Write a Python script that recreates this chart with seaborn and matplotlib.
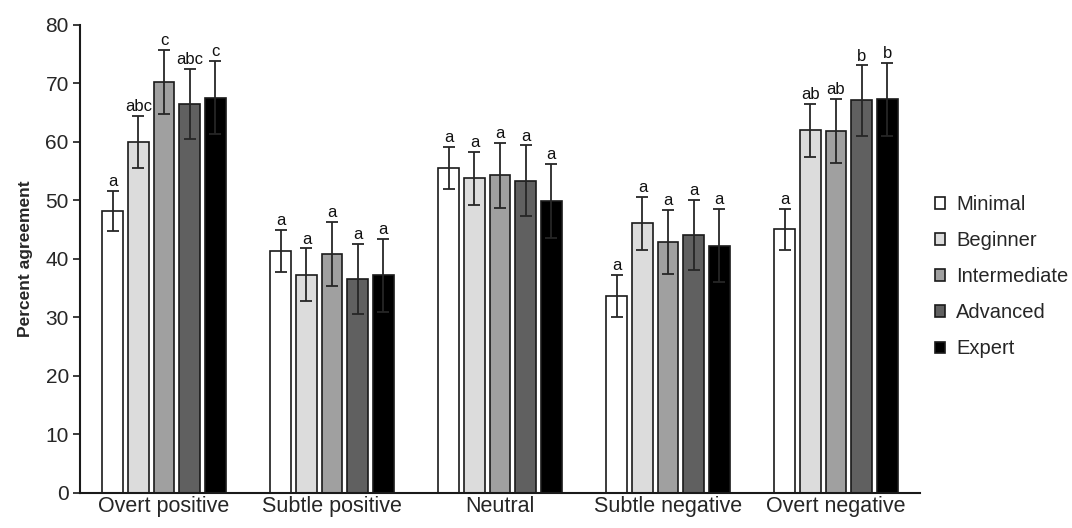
"""Percent agreement by framing and expertise level (grouped bars with SE)."""

import matplotlib.pyplot as plt
import pandas as pd
import seaborn as sns

categories = ["Overt positive", "Subtle positive", "Neutral", "Subtle negative", "Overt negative"]
levels = ["Minimal", "Beginner", "Intermediate", "Advanced", "Expert"]

minimal = [48.2, 41.4, 55.5, 33.7, 45.1]
beginner = [60.0, 37.3, 53.8, 46.1, 62.0]
intermediate = [70.2, 40.8, 54.3, 42.9, 61.9]
advanced = [66.5, 36.6, 53.4, 44.1, 67.1]
expert = [67.6, 37.2, 49.9, 42.3, 67.3]

minimal_err = [3.5, 3.6, 3.6, 3.6, 3.5]
beginner_err = [4.5, 4.5, 4.5, 4.5, 4.5]
intermediate_err = [5.5, 5.5, 5.5, 5.5, 5.5]
advanced_err = [6.0, 6.0, 6.0, 6.0, 6.0]
expert_err = [6.3, 6.3, 6.3, 6.3, 6.2]

minimal_sig = ["a", "a", "a", "a", "a"]
beginner_sig = ["abc", "a", "a", "a", "ab"]
intermediate_sig = ["c", "a", "a", "a", "ab"]
advanced_sig = ["abc", "a", "a", "a", "b"]
expert_sig = ["c", "a", "a", "a", "b"]

yticks = [0, 10, 20, 30, 40, 50, 60, 70, 80]

colors = ["#ffffff", "#dcdcdc", "#a0a0a0", "#606060", "#000000"]

means = [minimal, beginner, intermediate, advanced, expert]
errs = [minimal_err, beginner_err, intermediate_err, advanced_err, expert_err]
sigs = [minimal_sig, beginner_sig, intermediate_sig, advanced_sig, expert_sig]

df = pd.DataFrame(
    [
        {"category": c, "level": lv, "value": v, "err": e, "sig": s}
        for lv, vals, es, ss in zip(levels, means, errs, sigs)
        for c, v, e, s in zip(categories, vals, es, ss)
    ]
)

sns.set_style("ticks")
plt.rcParams["font.family"] = ["Liberation Sans", "DejaVu Sans"]

fig = plt.figure(figsize=(10.72, 5.28), dpi=100)
ax = fig.add_axes([0.0746, 0.0663, 0.7836, 0.8864])

sns.barplot(
    data=df,
    x="category",
    y="value",
    hue="level",
    order=categories,
    hue_order=levels,
    palette=colors,
    width=0.76,
    gap=0.18,
    errorbar=None,
    edgecolor="#1a1a1a",
    linewidth=1.2,
    legend=True,
    ax=ax,
)

# error bars + significance letters on each bar
for cont, lv in zip(ax.containers, levels):
    sub = df[df["level"] == lv].set_index("category").loc[categories]
    xs = [b.get_x() + b.get_width() / 2 for b in cont]
    ax.errorbar(
        xs,
        sub["value"],
        yerr=sub["err"],
        fmt="none",
        ecolor="#262626",
        elinewidth=1.3,
        capsize=4,
        capthick=1.3,
        zorder=3,
    )
    for x, v, e, s in zip(xs, sub["value"], sub["err"], sub["sig"]):
        ax.text(x, v + e + 0.3, s, ha="center", va="bottom", fontsize=12, color="#111111")

ax.set_xlim(-0.5, 4.5)
ax.set_ylim(0, 80)
ax.set_yticks(yticks)
ax.set_xlabel("")
ax.set_ylabel("Percent agreement", fontsize=12.5, fontweight="bold", labelpad=9)
ax.tick_params(axis="y", labelsize=15, length=5, width=1.2, color="#1a1a1a", pad=3)
ax.tick_params(axis="x", labelsize=15.5, length=0, pad=2)
sns.despine(ax=ax)
for sp in ("left", "bottom"):
    ax.spines[sp].set_linewidth(1.5)
    ax.spines[sp].set_color("#1a1a1a")

handles, labels = ax.get_legend_handles_labels()
ax.get_legend().remove()
leg = fig.legend(
    handles,
    labels,
    loc="center left",
    bbox_to_anchor=(0.872, 0.476),
    frameon=False,
    fontsize=14.5,
    handlelength=0.5,
    handleheight=0.5,
    handletextpad=0.55,
    labelspacing=0.85,
    borderpad=0,
    borderaxespad=0,
)

fig.savefig("out.png", dpi=100)
